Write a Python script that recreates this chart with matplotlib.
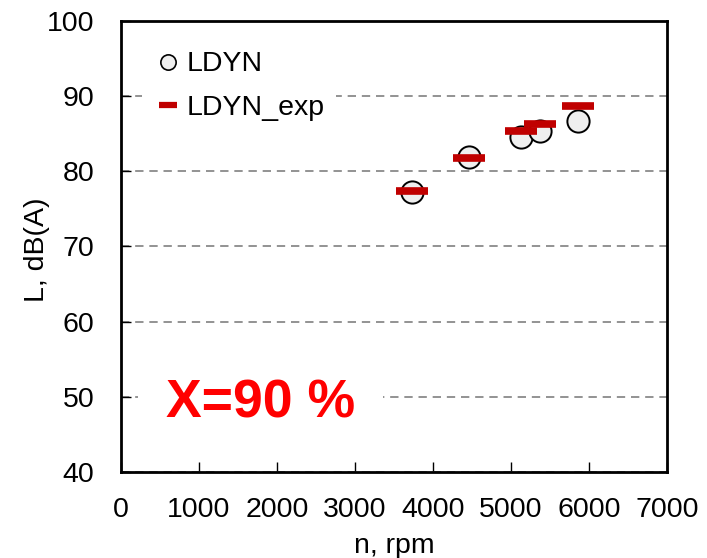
import matplotlib
matplotlib.use("Agg")
import matplotlib.pyplot as plt
from matplotlib.lines import Line2D

plt.rcParams['font.family'] = ['Liberation Sans', 'DejaVu Sans']

# data
rpm = [3727, 4462, 5132, 5372, 5855]
ldyn = [77.2, 81.9, 84.5, 85.4, 86.6]
ldyn_exp = [77.4, 81.8, 85.3, 86.2, 88.6]
xticks = [0, 1000, 2000, 3000, 4000, 5000, 6000, 7000]
yticks = [40, 50, 60, 70, 80, 90, 100]
annotation = "X=90 %"

fig = plt.figure(figsize=(7.07, 5.58), dpi=100)
ax = fig.add_axes([121/707, 1 - 472/558, 546/707, 451.3/558])

ax.set_xlim(0, 7000)
ax.set_ylim(40, 100)
ax.set_xticks(xticks)
ax.set_yticks(yticks)
ax.tick_params(direction='in', length=7, width=1, labelsize=20.5)
ax.tick_params(axis='x', pad=18)
ax.tick_params(axis='y', pad=19)
for s in ax.spines.values():
    s.set_linewidth(2)
ax.set_axisbelow(True)
ax.yaxis.grid(True, color='#808080', linestyle=(0, (5, 3.5)), linewidth=1.2)

ax.plot(rpm, ldyn, linestyle='none', marker='o', markersize=16,
        markerfacecolor='#efefef', markeredgecolor='black', markeredgewidth=1.4,
        zorder=3)
ax.plot(rpm, ldyn_exp, linestyle='none', marker='_', markersize=23,
        markeredgecolor='#c00000', markeredgewidth=5.5, zorder=4)

ax.set_xlabel("n, rpm", fontsize=20.5)
ax.set_ylabel("L, dB(A)", fontsize=20.5)
ax.xaxis.set_label_coords(0.5, -0.135)
ax.yaxis.set_label_coords(-0.130, 0.492)

handles = [
    Line2D([], [], linestyle='none', marker='o', markersize=11,
           markerfacecolor='#efefef', markeredgecolor='black', markeredgewidth=1.2),
    Line2D([], [], linestyle='none', marker='_', markersize=13,
           markeredgecolor='#c00000', markeredgewidth=4.5),
]
leg = ax.legend(handles, ["LDYN", "LDYN_exp"], loc='upper left',
                bbox_to_anchor=(0.0385, 0.957), fontsize=20.5, frameon=True,
                fancybox=False, edgecolor='none', facecolor='white', framealpha=1,
                borderpad=0.4, handlelength=1.0, handletextpad=0.15,
                labelspacing=0.62, borderaxespad=0)

ax.text(0.255, 0.1197, annotation, transform=ax.transAxes, ha='center',
        va='baseline', fontsize=38.5, fontweight='bold', color='#ff0000',
        bbox=dict(facecolor='white', edgecolor='none', pad=20), zorder=5)

fig.savefig("out.png", dpi=100)
